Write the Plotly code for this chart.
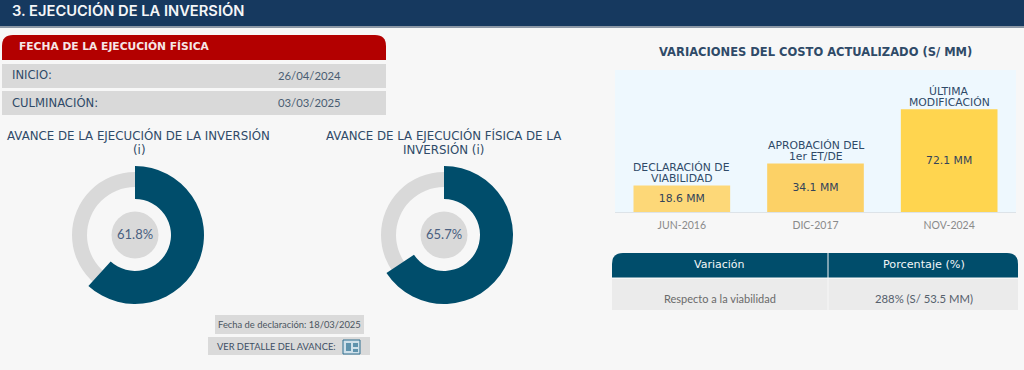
import plotly.graph_objects as go

W, H = 1024, 370
BG = "#F7F7F7"; NAVY = "#16395F"; TEAL = "#004D6B"; RED = "#B30000"; GRAY = "#D9D9D9"
TXT = "#2F4A68"; HEAD = "DejaVu Sans"; BODY = "Lato"

section_title = "3. EJECUCIÓN DE LA INVERSIÓN"
dates_title = "FECHA DE LA EJECUCIÓN FÍSICA"
date_labels = ["INICIO:", "CULMINACIÓN:"]
date_values = ["26/04/2024", "03/03/2025"]
donut_titles = [["AVANCE DE LA EJECUCIÓN DE LA INVERSIÓN", "(i)"],
                ["AVANCE DE LA EJECUCIÓN FÍSICA DE LA", "INVERSIÓN (i)"]]
donut_values = [61.8, 65.7]
chart_title = "VARIACIONES DEL COSTO ACTUALIZADO (S/ MM)"
bar_dates = ["JUN-2016", "DIC-2017", "NOV-2024"]
bar_values = [18.6, 34.1, 72.1]
bar_labels = [["DECLARACIÓN DE", "VIABILIDAD"], ["APROBACIÓN DEL", "1er ET/DE"], ["ÚLTIMA", "MODIFICACIÓN"]]
bar_colors = ["#FDD878", "#FCD166", "#FFD54F"]
table_head = ["Variación", "Porcentaje (%)"]
table_row = ["Respecto a la viabilidad", "288% (S/ 53.5 MM)"]
declared = "Fecha de declaración: 18/03/2025"
detail = "VER DETALLE DEL AVANCE:"

def px(x): return x / W
def py(y): return 1 - y / H

shapes, notes = [], []
def rect(x0, y0, x1, y1, fill, layer="below", line=None, width=0):
    shapes.append(dict(type="rect", xref="paper", yref="paper", x0=px(x0), x1=px(x1), y0=py(y0), y1=py(y1),
                       fillcolor=fill, line=dict(width=width, color=line), layer=layer))
def rtop(x0, y0, x1, y1, r, fill, left=True, right=True):
    p = f"M{px(x0)},{py(y1)} "
    if left:
        p += f"L{px(x0)},{py(y0+r)} Q{px(x0)},{py(y0)} {px(x0+r)},{py(y0)} "
    else:
        p += f"L{px(x0)},{py(y0)} "
    if right:
        p += f"L{px(x1-r)},{py(y0)} Q{px(x1)},{py(y0)} {px(x1)},{py(y0+r)} "
    else:
        p += f"L{px(x1)},{py(y0)} "
    p += f"L{px(x1)},{py(y1)} Z"
    shapes.append(dict(type="path", xref="paper", yref="paper", path=p, fillcolor=fill, line=dict(width=0), layer="below"))
def text(x, y, s, size, color=TXT, family=BODY, anchor="left", weight=None):
    notes.append(dict(xref="paper", yref="paper", x=px(x), y=py(y), text=s, showarrow=False, xanchor=anchor,
                      yanchor="middle", align="center" if anchor == "center" else anchor,
                      font=dict(size=size, color=color, family=family, weight=weight), borderpad=0, borderwidth=0))

# header band
rect(0, 0, W, 26, NAVY)
rect(0, 26, W, 28, "#8C98A6")
text(12, 11, section_title, 14.7, "#F4F6F8", "Inter", weight=600)

# dates block
rtop(2, 35, 386, 60, 11, RED)
text(19, 46, dates_title, 10.7, "#F6E6E6", HEAD, weight=700)
for i, (a, b) in enumerate(zip(date_labels, date_values)):
    y0 = [64, 91][i]
    rect(2, y0, 386, y0 + 24, GRAY)
    text(12, y0 + 11, a, 11.6, TXT, HEAD)
    text(278, y0 + 11, b, 11.3, "#4A5D72", BODY)

# donut headings
for hx, lines in zip([138.5, 443.5], donut_titles):
    for ly, s in zip([135.5, 149.5], lines):
        text(hx, ly, s, 11.8, TXT, HEAD, "center")

traces = []
centres = [135, 444]
CY = 235
for cx, v in zip(centres, donut_values):
    # grey ring
    r = 63
    traces.append(go.Pie(values=[100], hole=48/63, sort=False, textinfo="none", hoverinfo="skip", showlegend=False,
                         marker=dict(colors=[GRAY], line=dict(width=0)),
                         domain=dict(x=[px(cx-r), px(cx+r)], y=[py(CY+r), py(CY-r)])))
    # progress ring
    r = 69
    traces.append(go.Pie(values=[v, 100 - v], hole=36/69, sort=False, direction="clockwise", rotation=0,
                         textinfo="none", hoverinfo="skip", showlegend=False,
                         marker=dict(colors=[TEAL, "rgba(0,0,0,0)"], line=dict(width=0)),
                         domain=dict(x=[px(cx-r), px(cx+r)], y=[py(CY+r), py(CY-r)])))
    # centre disc
    r = 23.5
    traces.append(go.Pie(values=[100], sort=False, textinfo="none", hoverinfo="skip", showlegend=False,
                         marker=dict(colors=[GRAY], line=dict(width=0)),
                         domain=dict(x=[px(cx-r), px(cx+r)], y=[py(CY+r), py(CY-r)])))
    text(cx, CY - 1, f"{v}%", 13, "#4A6080", BODY, "center")

# badges under donuts
rect(215, 315, 364, 334, "#DADADA")
text(218, 324.5, declared, 9.4, "#4A5560", BODY)
rect(208, 337, 370, 355, "#DADADA")
text(217, 346.5, detail, 9.3, "#3E5064", BODY)
rect(343, 340, 360, 354, "#CFE0EA", "above", "#2F6F8F", 1)
rect(346, 343, 351, 351, "#5F93AD", "above")
rect(353, 343, 358, 347, "#5F93AD", "above")
rect(353, 349, 358, 352, "#5F93AD", "above")

# bar chart
PX0, PX1, PY0, PY1 = 615, 1016, 70, 212
text(815.5, 51.5, chart_title, 11.5, TXT, HEAD, "center", 700)
rect(PX0, PY0, PX1, PY1, "#EEF8FE")
traces.append(go.Bar(x=bar_dates, y=bar_values, width=0.723, marker=dict(color=bar_colors, line=dict(width=0)),
                     text=[f"{v} MM" for v in bar_values], textposition="inside", insidetextanchor="middle",
                     textangle=0, constraintext="none",
                     textfont=dict(size=10.8, color="#33435A", family=HEAD),
                     hoverinfo="skip", showlegend=False, xaxis="x", yaxis="y"))
for d, v, lines in zip(bar_dates, bar_values, bar_labels):
    for shift, s in zip([18, 7], lines):
        notes.append(dict(xref="x", yref="y", x=d, y=v, yshift=shift, text=s, showarrow=False, xanchor="center",
                          yanchor="middle", align="center", font=dict(size=10.8, color=TXT, family=HEAD), borderpad=0))

# variation table
rtop(612, 253, 827.5, 277.5, 11, TEAL, True, False)
rtop(828.5, 253, 1018, 277.5, 11, TEAL, False, True)
rect(612, 279, 827.5, 310, "#EBEBEB")
rect(828.5, 279, 1018, 310, "#EBEBEB")
text(719.5, 264.5, table_head[0], 11, "#F2F6F8", HEAD, "center")
text(923.5, 264.5, table_head[1], 11.2, "#F2F6F8", HEAD, "center")
text(719.5, 298, table_row[0], 11, "#6A6A6A", BODY, "center")
text(923.5, 298, table_row[1], 11.3, "#55606C", BODY, "center")

fig = go.Figure(traces)
fig.update_layout(
    width=W, height=H, margin=dict(l=0, r=0, t=0, b=0), paper_bgcolor=BG, plot_bgcolor="rgba(0,0,0,0)",
    shapes=shapes, annotations=notes, showlegend=False,
    xaxis=dict(domain=[px(PX0), px(PX1)], type="category", categoryorder="array", categoryarray=bar_dates,
               showgrid=False, zeroline=False, showline=True, linecolor="#DDE3E8", linewidth=1,
               ticks="outside", ticklen=3, tickcolor="rgba(0,0,0,0)",
               tickfont=dict(size=10.5, color="#8A8A8A", family=BODY), fixedrange=True),
    yaxis=dict(domain=[py(PY1), py(PY0)], range=[0, 99.7], visible=False, fixedrange=True),
)
fig.write_html("out.html", config=dict(displayModeBar=False),
               post_script="document.body.style.margin='0';")
